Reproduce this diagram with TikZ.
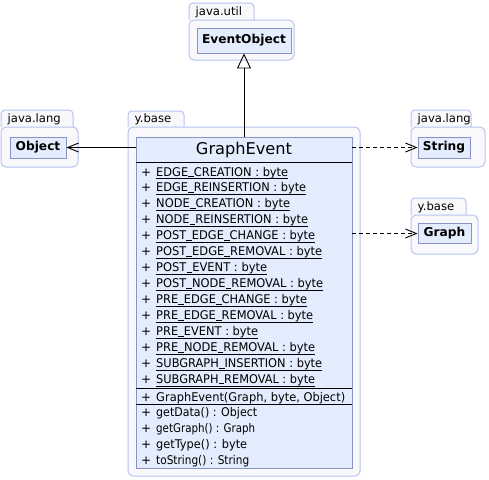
\documentclass[tikz,border=0pt]{standalone}
\usepackage{fontspec}
\usepackage{graphicx}
\setmainfont{DejaVu Sans}
\usetikzlibrary{arrows.meta}
\definecolor{clsfill}{HTML}{E3EDFD}
\definecolor{clsdraw}{HTML}{8A93C8}
\definecolor{pkgdraw}{HTML}{B8C3F2}
\definecolor{pkgfill}{HTML}{F9F9FB}
\newcommand\drawpkg[8]{%
  \draw[pkgline, rounded corners=4pt] (#2,#5) -- (#2,#3) -- (#4,#3) -- (#4,#5);
  \draw[pkgline, rounded corners=5pt] (#2,#5) rectangle (#6,#7);
  \node[tablbl] (#1) at (#2+6.5,#5-4.5) {#8};
}
\newcommand\fitw[2]{\resizebox{#1pt}{\height}{#2}}
\newcommand\us{\rule[-0.9pt]{0.5em}{0.8pt}}
\begin{document}
\begin{tikzpicture}[x=1pt,y=-1pt,
  pkgline/.style={draw=pkgdraw, fill=pkgfill, line width=1pt},
  tablbl/.style={font=\fontsize{11.6}{13}\selectfont, inner sep=0, anchor=base west},
  cls/.style={draw=clsdraw, fill=clsfill, line width=0.9pt, inner sep=0,
    font=\bfseries\fontsize{12.2}{14}\selectfont},
  lbl/.style={font=\fontsize{12}{14}\selectfont, inner sep=0, anchor=base west},
  uline/.style={line width=0.8pt, black},
  conn/.style={line width=0.9pt, black},
  barb/.style={-{Straight Barb[length=11pt,width=9pt,line width=0.9pt]}},
  dsh/.style={dash pattern=on 4pt off 3pt}
]
\useasboundingbox[fill=white] (0,0) rectangle (489,479);

% packages
\drawpkg{pkgutil}{189}{3}{254}{20}{294}{60}{java.util}
\drawpkg{pkglangL}{1}{110}{73}{127}{78}{167}{java.lang}
\drawpkg{pkgbase}{128}{111}{184}{127}{360}{476}{y.base}
\drawpkg{pkglangR}{411}{110}{471}{127}{485}{167}{java.lang}
\drawpkg{pkgbaseR}{411}{198}{466}{215}{478}{254}{y.base}

% small classes
\node[cls, minimum width=94pt, minimum height=25pt] (eo) at (244,40.5) {EventObject};
\node[cls, minimum width=56pt, minimum height=21pt] (obj) at (38,147.5) {Object};
\node[cls, minimum width=52pt, minimum height=21pt] (str) at (444,147.5) {String};
\node[cls, minimum width=53pt, minimum height=20pt] (gr) at (444.5,233.5) {Graph};

% main class
\node[cls, minimum width=216pt, minimum height=331pt] (ge) at (244,302.5) {};
\node[font=\fontsize{16.2}{19}\selectfont, inner sep=0] (title) at (244,150) {GraphEvent};
\draw[conn] (ge.west |- 0,162) coordinate (s1a) -- (ge.east |- 0,162) coordinate (s1b);
\draw[conn] (ge.west |- 0,388) coordinate (s2a) -- (ge.east |- 0,388) coordinate (s2b);
\draw[conn] (ge.west |- 0,404.5) coordinate (s3a) -- (ge.east |- 0,404.5) coordinate (s3b);

\foreach \t/\w [count=\i from 0] in {EDGE\us CREATION/132, EDGE\us REINSERTION/150,
  NODE\us CREATION/134, NODE\us REINSERTION/152, POST\us EDGE\us CHANGE/159,
  POST\us EDGE\us REMOVAL/166, POST\us EVENT/111, POST\us NODE\us REMOVAL/167,
  PRE\us EDGE\us CHANGE/151, PRE\us EDGE\us REMOVAL/157, PRE\us EVENT/102,
  PRE\us NODE\us REMOVAL/159, SUBGRAPH\us INSERTION/166, SUBGRAPH\us REMOVAL/159}{
  \node[lbl] (ap\i) at (141,176+15.95*\i) {+};
  \node[lbl] (a\i) at (156,176+15.95*\i) {\fitw{\w}{\t\ : byte}};
  \draw[uline] (a\i.base west) ++(0,2.8) -- ++(\w,0);
}
\node[lbl] (cp) at (141,401) {+};
\node[lbl] (c) at (156,401) {\fitw{189}{GraphEvent(Graph, byte, Object)}};
\foreach \t/\w [count=\i from 0] in {getData() : Object/101, getGraph() : Graph/99,
  getType() : byte/91, toString() : String/93}{
  \node[lbl] (mp\i) at (141,416+16*\i) {+};
  \node[lbl] (m\i) at (156,416+16*\i) {\fitw{\w}{\t}};
}

% connectors
\draw[conn, -{Triangle[open,length=15pt,width=14pt,line width=0.9pt]}] (ge.north) -- (eo.south);
\coordinate (geL) at (136,147.5);
\coordinate (geR1) at (352,147.5);
\coordinate (geR2) at (352,233.5);
\draw[conn, barb] (geL) -- (obj.east);
\draw[conn, barb, dsh] (geR1) -- (str.west);
\draw[conn, barb, dsh] (geR2) -- (gr.west);
\end{tikzpicture}
\end{document}
